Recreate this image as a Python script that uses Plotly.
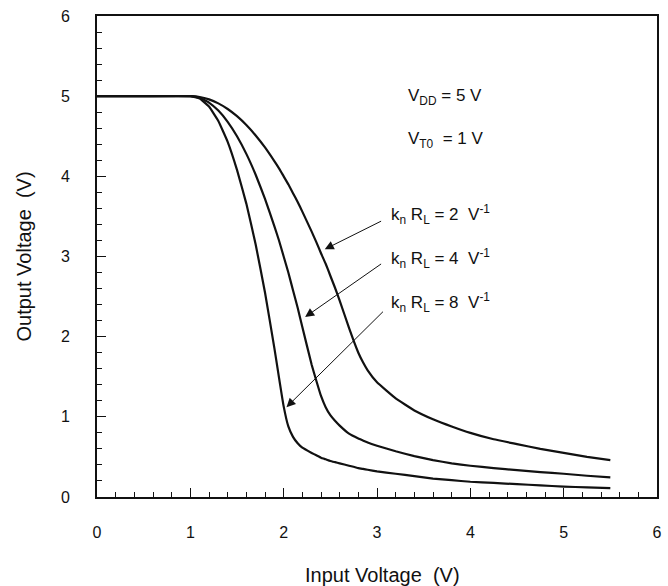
import plotly.graph_objects as go

# Input voltage samples (V)
vin = [0.0, 0.5, 1.0, 1.1, 1.2, 1.3, 1.4, 1.5, 1.6, 1.7, 1.8, 1.9, 1.95, 2.0, 2.05, 2.1, 2.15,
       2.2, 2.3, 2.35, 2.4, 2.45, 2.5, 2.55, 2.6, 2.7, 2.8, 2.85, 2.9, 3.0, 3.2, 3.4, 3.6, 3.8,
       4.0, 4.25, 4.5, 4.75, 5.0, 5.25, 5.5]

# Output voltage (V)
vout_k2 = [5.0, 5.0, 5.0, 4.99, 4.96, 4.91, 4.84, 4.75, 4.64, 4.51, 4.36, 4.19, 4.10, 4.0, 3.90, 3.79, 3.68,
           3.56, 3.31, 3.18, 3.04, 2.91, 2.76, 2.61, 2.45, 2.11, 1.80, 1.68, 1.58, 1.43, 1.23, 1.08, 0.97, 0.88,
           0.80, 0.72, 0.66, 0.60, 0.55, 0.50, 0.46]
vout_k4 = [5.0, 5.0, 5.0, 4.98, 4.92, 4.82, 4.68, 4.50, 4.28, 4.02, 3.72, 3.38, 3.20, 3.0, 2.80, 2.58, 2.36,
           2.12, 1.65, 1.45, 1.26, 1.12, 1.02, 0.95, 0.89, 0.79, 0.73, 0.705, 0.68, 0.64, 0.57, 0.51, 0.46, 0.42,
           0.39, 0.36, 0.335, 0.31, 0.29, 0.265, 0.245]
vout_k8 = [5.0, 5.0, 5.0, 4.97, 4.87, 4.69, 4.43, 4.08, 3.66, 3.15, 2.55, 1.86, 1.49, 1.13, 0.88, 0.75, 0.67,
           0.615, 0.55, 0.52, 0.49, 0.47, 0.45, 0.435, 0.42, 0.39, 0.36, 0.35, 0.34, 0.32, 0.29, 0.26, 0.23, 0.21,
           0.19, 0.175, 0.16, 0.145, 0.13, 0.12, 0.11]

series = [("k2", vout_k2), ("k4", vout_k4), ("k8", vout_k8)]

x_ticks = [0, 1, 2, 3, 4, 5, 6]
y_ticks = [0, 1, 2, 3, 4, 5, 6]

FONT = "Liberation Sans, Arial, sans-serif"

fig = go.Figure()
for name, vals in series:
    fig.add_trace(go.Scatter(x=vin, y=vals, mode="lines", name=name,
                             line=dict(color="#111111", width=2.2, shape="spline", smoothing=0.3),
                             showlegend=False, hoverinfo="skip"))

axis_common = dict(
    showgrid=False, zeroline=False, showline=True, linecolor="#111111", linewidth=1.6,
    mirror=True, ticks="inside", ticklen=9, tickwidth=1.3, tickcolor="#111111",
    tickfont=dict(family=FONT, size=16, color="#111111"),
    minor=dict(ticks="inside", ticklen=5, tickwidth=1, tickcolor="#111111", dtick=0.2),
)
fig.update_xaxes(range=[0, 6], tickvals=x_ticks, ticktext=[str(v) for v in x_ticks],
                 ticklabelstandoff=20, **axis_common)
fig.update_yaxes(range=[0, 6], tickvals=y_ticks, ticktext=[str(v) for v in y_ticks],
                 ticklabelstandoff=22, **axis_common)

ann_font = dict(family=FONT, size=17, color="#111111")
annotations = [
    dict(x=3.31, y=4.99, text="V<sub>DD</sub> = 5 V"),
    dict(x=3.31, y=4.45, text="V<sub>T0</sub>  = 1 V"),
    dict(x=3.13, y=3.52, text="k<sub>n</sub> R<sub>L</sub> = 2  V<sup>-1</sup>"),
    dict(x=3.13, y=2.98, text="k<sub>n</sub> R<sub>L</sub> = 4  V<sup>-1</sup>"),
    dict(x=3.13, y=2.43, text="k<sub>n</sub> R<sub>L</sub> = 8  V<sup>-1</sup>"),
]
for a in annotations:
    fig.add_annotation(x=a["x"], y=a["y"], text=a["text"], showarrow=False,
                       xanchor="left", yanchor="middle", font=ann_font)

arrows = [((2.44, 3.09), (3.06, 3.45)),
          ((2.23, 2.245), (3.06, 2.92)),
          ((2.03, 1.12), (3.08, 2.33))]
for (hx, hy), (tx, ty) in arrows:
    fig.add_annotation(x=hx, y=hy, ax=tx, ay=ty, xref="x", yref="y", axref="x", ayref="y",
                       text="", showarrow=True, arrowhead=2, arrowsize=1.8, arrowwidth=1,
                       arrowcolor="#111111")

title_font = dict(family=FONT, size=20, color="#111111")
fig.add_annotation(xref="paper", yref="paper", x=0.51, y=0, yshift=-78, text="Input Voltage  (V)",
                   showarrow=False, xanchor="center", yanchor="middle", font=title_font)
fig.add_annotation(xref="paper", yref="paper", x=0, y=0.5, xshift=-74, text="Output Voltage  (V)",
                   showarrow=False, xanchor="center", yanchor="middle", textangle=-90, font=title_font)

fig.update_layout(width=668, height=586, margin=dict(l=97, r=6, t=16, b=89),
                  plot_bgcolor="white", paper_bgcolor="white")

fig.write_html("out.html")
